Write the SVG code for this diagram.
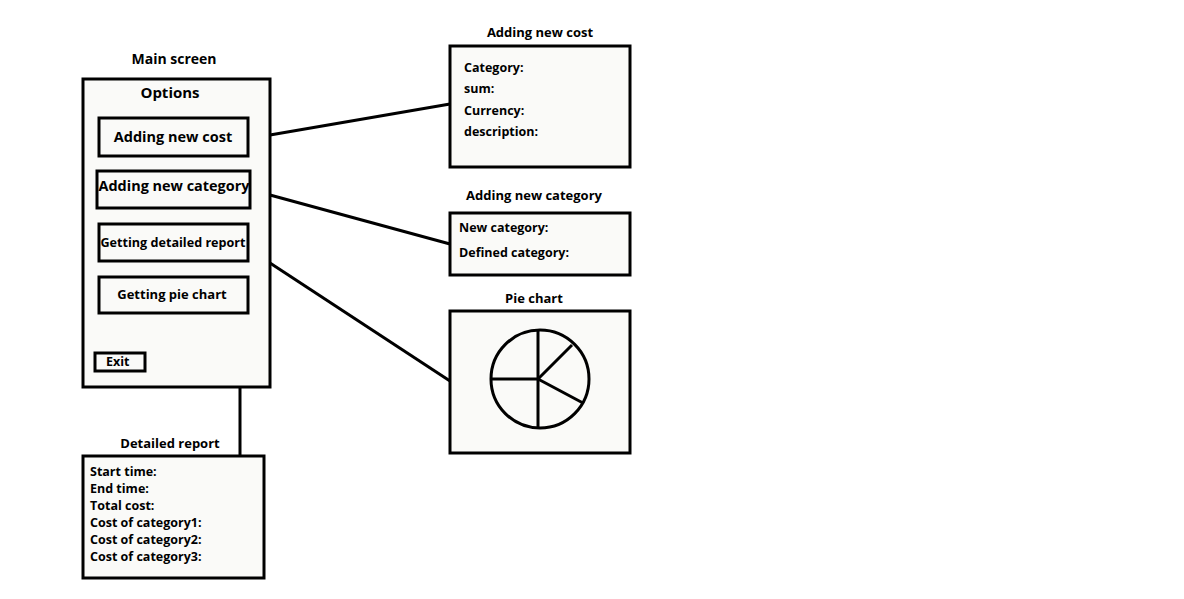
<svg xmlns="http://www.w3.org/2000/svg" width="1184" height="599" viewBox="0 0 1184 599">
<style>
.box{fill:#fafaf8;stroke:#000;stroke-width:3}
.btn{fill:#fafaf8;stroke:#000;stroke-width:3}
.t{font-family:"Open Sans","Liberation Sans",sans-serif;font-weight:700;fill:#000}
.title{font-size:13px;text-anchor:middle}
.lbl{font-size:12.5px}
.conn{stroke:#000;stroke-width:3;fill:none}
</style>
<rect width="1184" height="599" fill="#fff"/>
<g id="connectors">
<line class="conn" x1="270" y1="135" x2="450" y2="104"/>
<line class="conn" x1="270" y1="195" x2="450" y2="244"/>
<line class="conn" x1="270" y1="263" x2="450" y2="381"/>
<line class="conn" x1="240" y1="387" x2="240" y2="456"/>
</g>
<g id="main-screen">
<text class="t" x="174" y="64" font-size="14" text-anchor="middle">Main screen</text>
<rect class="box" x="83" y="79" width="187" height="308"/>
<text class="t" x="170" y="98" font-size="15" text-anchor="middle">Options</text>
<g id="btn-cost"><rect class="btn" x="99" y="118" width="149" height="38"/><text class="t" x="173" y="142" font-size="14.5" text-anchor="middle">Adding new cost</text></g>
<g id="btn-category"><rect class="btn" x="97" y="171" width="153" height="37"/><text class="t" x="174" y="191" font-size="14" text-anchor="middle" textLength="151" lengthAdjust="spacingAndGlyphs">Adding new category</text></g>
<g id="btn-report"><rect class="btn" x="99" y="224" width="149" height="37"/><text class="t" x="173" y="247" font-size="13" text-anchor="middle" textLength="145" lengthAdjust="spacingAndGlyphs">Getting detailed report</text></g>
<g id="btn-pie"><rect class="btn" x="99" y="277" width="149" height="36"/><text class="t" x="172" y="299" font-size="13" text-anchor="middle">Getting pie chart</text></g>
<g id="btn-exit"><rect class="btn" x="95" y="353" width="50" height="18"/><text class="t" x="106" y="366" font-size="12.5">Exit</text></g>
</g>
<g id="adding-new-cost">
<text class="t title" x="540" y="37">Adding new cost</text>
<rect class="box" x="450" y="46" width="180" height="121"/>
<text class="t lbl" x="464" y="72">Category:</text>
<text class="t lbl" x="464" y="93">sum:</text>
<text class="t lbl" x="464" y="115">Currency:</text>
<text class="t lbl" x="464" y="136">description:</text>
</g>
<g id="adding-new-category">
<text class="t title" x="534" y="200">Adding new category</text>
<rect class="box" x="450" y="213" width="180" height="62"/>
<text class="t lbl" x="459" y="232">New category:</text>
<text class="t lbl" x="459" y="257">Defined category:</text>
</g>
<g id="pie-chart">
<text class="t title" x="534" y="303">Pie chart</text>
<rect class="box" x="450" y="311" width="180" height="142"/>
<circle cx="540" cy="379" r="49" fill="none" stroke="#000" stroke-width="3"/>
<line class="conn" x1="538" y1="331" x2="538" y2="428"/>
<line class="conn" x1="491" y1="379" x2="538" y2="379"/>
<line class="conn" x1="538" y1="379" x2="572" y2="345"/>
<line class="conn" x1="538" y1="379" x2="583" y2="403"/>
</g>
<g id="detailed-report">
<text class="t title" x="170" y="448">Detailed report</text>
<rect class="box" x="83" y="456" width="181" height="122"/>
<text class="t lbl" x="90" y="476">Start time:</text>
<text class="t lbl" x="90" y="493">End time:</text>
<text class="t lbl" x="90" y="510">Total cost:</text>
<text class="t lbl" x="90" y="527">Cost of category1:</text>
<text class="t lbl" x="90" y="544">Cost of category2:</text>
<text class="t lbl" x="90" y="561">Cost of category3:</text>
</g>
</svg>
